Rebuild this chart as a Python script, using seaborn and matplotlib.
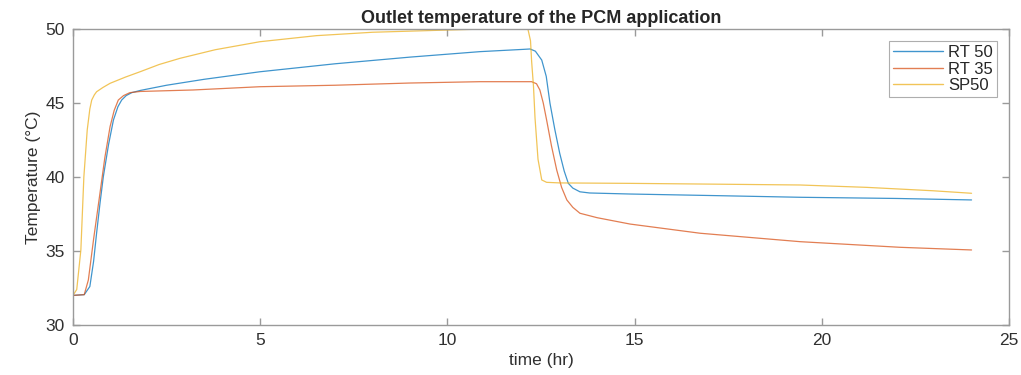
import numpy as np
import pandas as pd
import matplotlib
matplotlib.use("Agg")
import matplotlib.pyplot as plt
import seaborn as sns

# valori (tempo in ore, temperatura in °C)
t_rt50 = [0, 0.3, 0.45, 0.55, 0.63, 0.72, 0.81, 0.95, 1.08, 1.2, 1.3, 1.42, 1.57, 1.8, 2.5, 3.5, 4.99,
          7.0, 9.0, 10.87, 12.0, 12.21, 12.35, 12.52, 12.64, 12.74, 12.87, 13.0, 13.12, 13.23, 13.35,
          13.54, 13.8, 14.88, 17.0, 19.42, 22.0, 24.0]
temp_rt50 = [32, 32.05, 32.6, 34.3, 36.2, 38.2, 40.02, 42.2, 43.85, 44.75, 45.2, 45.5, 45.7, 45.85, 46.2,
             46.6, 47.11, 47.65, 48.1, 48.47, 48.62, 48.65, 48.5, 47.9, 46.8, 44.98, 43.2, 41.6, 40.4,
             39.57, 39.25, 39.0, 38.92, 38.85, 38.75, 38.63, 38.55, 38.45]

t_rt35 = [0, 0.3, 0.41, 0.55, 0.72, 0.85, 0.99, 1.1, 1.21, 1.35, 1.52, 1.8, 3.21, 4.99, 7.0, 9.0,
          10.87, 12.25, 12.38, 12.47, 12.56, 12.65, 12.78, 12.92, 13.05, 13.19, 13.35, 13.54, 14.0,
          14.88, 16.75, 19.42, 22.09, 24.0]
temp_rt35 = [32, 32.05, 33.04, 35.8, 38.9, 41.3, 43.4, 44.5, 45.2, 45.5, 45.7, 45.78, 45.88, 46.1, 46.2,
             46.35, 46.44, 46.44, 46.3, 45.88, 45.0, 43.85, 42.1, 40.47, 39.3, 38.45, 37.95, 37.55,
             37.25, 36.82, 36.2, 35.63, 35.25, 35.07]

t_sp50 = [0, 0.1, 0.21, 0.29, 0.38, 0.45, 0.5, 0.57, 0.63, 0.8, 0.99, 1.4, 1.79, 2.3, 2.86, 3.8, 4.99,
          6.5, 8.0, 10.0, 11.0, 12.15, 12.22, 12.25, 12.3, 12.34, 12.42, 12.52, 12.65, 13.0, 14.88,
          17.0, 19.42, 21.2, 22.97, 24.0]
temp_sp50 = [32, 32.4, 35.07, 40.0, 43.18, 44.6, 45.2, 45.55, 45.76, 46.05, 46.33, 46.75, 47.11, 47.6,
             48.02, 48.6, 49.14, 49.55, 49.78, 49.93, 50.0, 50.0, 49.2, 47.8, 46.1, 44.0, 41.2, 39.8,
             39.64, 39.6, 39.57, 39.52, 39.46, 39.3, 39.07, 38.9]

nomi = ["RT 50", "RT 35", "SP50"]
colori = ["#0072BD", "#D95319", "#EDB120"]

df = pd.concat([
    pd.DataFrame({"time": t_rt50, "temp": temp_rt50, "serie": "RT 50"}),
    pd.DataFrame({"time": t_rt35, "temp": temp_rt35, "serie": "RT 35"}),
    pd.DataFrame({"time": t_sp50, "temp": temp_sp50, "serie": "SP50"}),
], ignore_index=True)

sns.set_style("white")
plt.rcParams["font.family"] = ["Liberation Sans", "DejaVu Sans"]

fig = plt.figure(figsize=(10.21, 3.75), dpi=100)
ax = fig.add_axes([73 / 1021, 1 - 325 / 375, 936 / 1021, 296 / 375])

sns.lineplot(data=df, x="time", y="temp", hue="serie", hue_order=nomi,
             palette=dict(zip(nomi, colori)), estimator=None, sort=False,
             linewidth=0.9, alpha=0.75, ax=ax)

ax.set_xlim(0, 25)
ax.set_ylim(30, 50)
ax.set_xticks([0, 5, 10, 15, 20, 25])
ax.set_yticks([30, 35, 40, 45, 50])

gray = "#9a9a9a"
for s in ax.spines.values():
    s.set_color(gray)
    s.set_linewidth(1.0)
ax.tick_params(direction="in", length=5, width=1, color=gray, labelcolor="#303030",
               labelsize=12.5, pad=6, top=True, right=True, bottom=True, left=True)

ax.set_xlabel("time (hr)", fontsize=12.5, color="#303030", labelpad=3)
ax.set_ylabel("Temperature (°C)", fontsize=12.5, color="#303030", labelpad=3)
ax.set_title("Outlet temperature of the PCM application", fontsize=13, fontweight="bold", pad=4)

leg = ax.legend(loc="upper right", fontsize=12, frameon=True, fancybox=False,
                borderaxespad=0.7, handlelength=3.0, handletextpad=0.3, labelspacing=0.1,
                borderpad=0.25)
leg.get_frame().set_edgecolor(gray)
leg.get_frame().set_linewidth(0.8)
for line in leg.get_lines():
    line.set_linewidth(1.0)

plt.savefig("out.png", dpi=100)
